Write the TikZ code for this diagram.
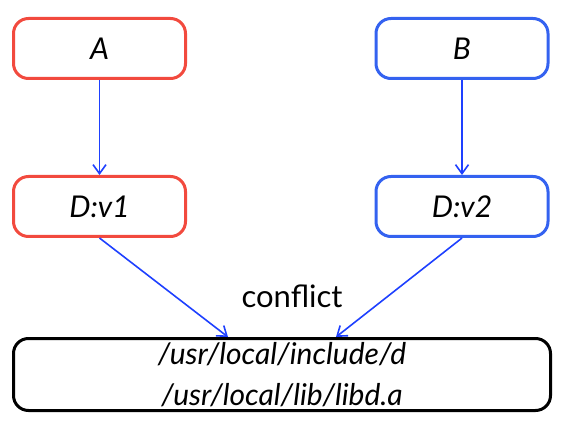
\documentclass[tikz,border=0pt]{standalone}
\usepackage{fontspec}
\setmainfont{Lato}
\usepackage{tikz}
\usetikzlibrary{positioning,arrows.meta}
\definecolor{pkgred}{RGB}{242,74,62}
\definecolor{pkgblue}{RGB}{52,98,240}
\definecolor{depblue}{RGB}{30,64,255}
\tikzset{
  pkg/.style={draw, line width=3pt, rounded corners=15pt, minimum width=172pt,
    minimum height=60pt, font=\fontsize{30}{41}\selectfont\itshape},
  dep/.style={depblue, line width=1.6pt, -{Straight Barb[length=9pt,width=13pt]}}
}

\begin{document}
\begin{tikzpicture}[x=1pt,y=1pt]
\useasboundingbox (0,0) rectangle (562,426);
\node [pkg, pkgred] (a) at (99.5,377.5) {\color{black}A};
\node [pkg, pkgred, below=95pt of a] (dv1) {\color{black}D:v1};
\node [pkg, pkgblue] (b) at (462,377.5) {\color{black}B};
\node [pkg, pkgblue, below=95pt of b] (dv2) {\color{black}D:v2};
\node [pkg, minimum width=537pt, minimum height=72pt, inner sep=0pt, align=center] (lib) at (282,51.5)
  {/usr/local/include/d\\/usr/local/lib/libd.a};
\node [font=\fontsize{31}{37}\selectfont] (conflict) at (292,130) {conflict};
\coordinate (in1) at ([xshift=-54pt]lib.north);
\coordinate (in2) at ([xshift=54pt]lib.north);
\draw [dep] (a) -- (dv1);
\draw [dep] (b) -- (dv2);
\draw [dep] (dv1.south) -- (in1);
\draw [dep] (dv2.south) -- (in2);
\end{tikzpicture}
\end{document}
